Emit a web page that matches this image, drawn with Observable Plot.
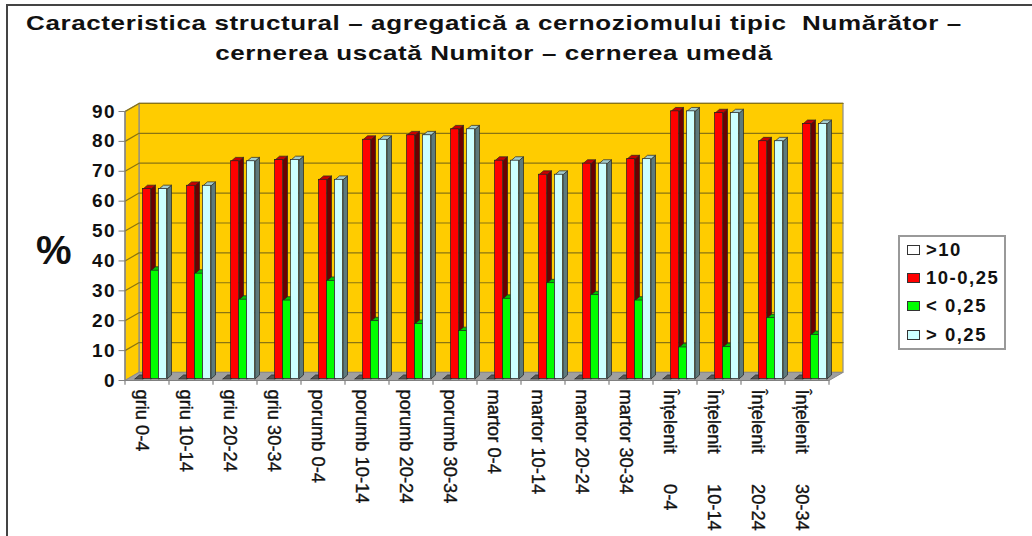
<!DOCTYPE html>
<html lang="ro">
<head>
<meta charset="utf-8">
<script src="https://cdn.jsdelivr.net/npm/d3@7"></script>
<script src="https://cdn.jsdelivr.net/npm/@observablehq/plot@0.6"></script>
<style>
  html, body { margin: 0; padding: 0; background: #fff; overflow: hidden; }
  body { width: 1032px; height: 536px; position: relative; font-family: "Liberation Sans", Arial, sans-serif; }
  #frame { position: absolute; left: 6px; top: 4px; width: 1030px; height: 540px; border-left: 2px solid #444; border-top: 2px solid #444; pointer-events: none; }
  #title { height: 75px; box-sizing: border-box; padding-top: 8px; width: 988px; text-align: center; font-weight: bold; font-size: 21px; line-height: 29.5px; color: #111; letter-spacing: 0.5px; white-space: pre; transform: scaleX(1.237); transform-origin: 494px 0; }
  #chart { display: block; }
  #chart svg { display: block; }
  [aria-label="y-axis tick label"] text { letter-spacing: 1.4px; }
  #legend { position: absolute; left: 898px; top: 235px; width: 104px; height: 111px; border: 2px solid #999; background: #fff; box-sizing: content-box; }
  .row { position: absolute; left: 7px; height: 24px; display: flex; align-items: center; font-weight: bold; font-size: 18.5px; letter-spacing: 1.5px; color: #111; white-space: pre; }
  .sw { display: inline-block; width: 11px; height: 8px; border: 1.5px solid #333; margin-right: 6px; }
</style>
</head>
<body>
<div id="title">Caracteristica structural – agregatică a cernoziomului tipic  Numărător –
cernerea uscată Numitor – cernerea umedă</div>
<div id="chart"></div>
<div id="legend"></div>
<div id="frame"></div>
<script>
const categories = ["griu 0-4","griu 10-14","griu 20-24","griu 30-34","porumb 0-4","porumb 10-14","porumb 20-24","porumb 30-34","martor 0-4","martor 10-14","martor 20-24","martor 30-34","Înțelenit      0-4","Înțelenit      10-14","Înțelenit      20-24","Înțelenit      30-34"];
const seriesNames = [">10","10-0,25","< 0,25","> 0,25"];
const over10  = [0,0,0,0,0,0,0,0,0,0,0,0,0,0,0,0];
const mid     = [63.5,64.6,72.8,73.2,66.6,80,81.5,83.5,73,68.3,72,73.5,89.5,88.9,79.5,85.3];
const under   = [36.2,35.2,26.5,26.2,32.8,19.3,18.4,16,26.8,32,28,26.2,10.5,10.6,20.3,14.7];
const over025 = [63.5,64.6,72.8,73.2,66.6,80,81.5,83.5,73,68.3,72,73.5,89.5,88.9,79.5,85.3];
const seriesValues = [over10, mid, under, over025];
const yTicks = [0,10,20,30,40,50,60,70,80,90];

const faceColors = ["#ffffff","#ff0000","#00ff00","#ccffff"];
const topColors  = ["#555555","#c80000","#00c800","#a4cccc"];
const sideColors = ["#555555","#6e0000","#006e00","#5d7a7c"];

// depth of the 3-D box, in data units of the two scales
const depthX = 14 / 44, depthY = 2.7;
const barDepthX = 4.5 / 44, barDepthY = 1.3;
const barWidth = 8 / 44, barStart = 10 / 44, barBase = 0.55;

const bars = seriesNames.flatMap((name, s) => categories.map((c, i) => {
  const x1 = i + barStart + s * barWidth;
  return {s, i, c, name, value: seriesValues[s][i], x1, x2: x1 + barWidth};
}));
const poly = (rows) => rows.flatMap((r) => r.pts.map(([x, y]) => ({x, y, id: r.id})));
const sideOf = (b) => ({id: `${b.s}-${b.i}`, pts: [
  [b.x2, barBase], [b.x2, barBase + b.value],
  [b.x2 + barDepthX, barBase + b.value + barDepthY], [b.x2 + barDepthX, barBase + barDepthY], [b.x2, barBase]]});
const topOf = (b) => ({id: `${b.s}-${b.i}`, pts: [
  [b.x1, barBase + b.value], [b.x2, barBase + b.value],
  [b.x2 + barDepthX, barBase + b.value + barDepthY], [b.x1 + barDepthX, barBase + b.value + barDepthY], [b.x1, barBase + b.value]]});

const n = categories.length;
const wallBox = [[depthX, depthY], [n + depthX, depthY], [n + depthX, 90 + depthY], [depthX, 90 + depthY], [depthX, depthY]];
const leftWall = [[0, 0], [depthX, depthY], [depthX, 90 + depthY], [0, 90], [0, 0]];
const floor = [[0, 0], [n, 0], [n + depthX, depthY], [depthX, depthY], [0, 0]];
const toRow = ([x, y]) => ({x, y});
const grid = yTicks.filter((t) => t > 0).flatMap((t) => [[0, t], [depthX, t + depthY], [n + depthX, t + depthY]].map(([x, y]) => ({x, y, id: t})));

const marks = [
  Plot.line(wallBox.map(toRow), {x: "x", y: "y", fill: "#ffcc00", stroke: "#8c8c8c", strokeWidth: 1.2}),
  Plot.line(leftWall.map(toRow), {x: "x", y: "y", fill: "#ffcc00", stroke: "#8c8c8c", strokeWidth: 1.2}),
  Plot.line(grid, {x: "x", y: "y", z: "id", stroke: "#8a7412", strokeWidth: 1.2}),
  Plot.line(floor.map(toRow), {x: "x", y: "y", fill: "#a0a0a0", stroke: "#8c8c8c", strokeWidth: 1})
];
// sides first, so that the next bar's face covers them
seriesNames.forEach((_, s) => {
  const rows = bars.filter((b) => b.s === s);
  marks.push(Plot.line(poly(rows.map(sideOf)), {x: "x", y: "y", z: "id", fill: sideColors[s], stroke: "#222", strokeWidth: 0.7}));
});
seriesNames.forEach((_, s) => {
  const rows = bars.filter((b) => b.s === s);
  marks.push(Plot.line(poly(rows.map(topOf)), {x: "x", y: "y", z: "id", fill: topColors[s], stroke: "#222", strokeWidth: 0.7}));
  marks.push(Plot.rect(rows, {x1: "x1", x2: "x2", y1: barBase, y2: (d) => barBase + d.value, fill: faceColors[s], stroke: "#222", strokeWidth: 0.7}));
});
marks.push(
  Plot.ruleY([0], {stroke: "#808080", strokeWidth: 1.2}),
  Plot.ruleX([0], {stroke: "#808080", strokeWidth: 1.2, y1: 0, y2: 90}),
  Plot.axisY({ticks: yTicks, tickSize: 6, tickPadding: 3, label: null, stroke: "#808080", fontSize: 19, fontWeight: "bold", fill: "#111", tickFormat: (d) => d}),
  Plot.ruleX(d3.range(0, n + 1), {y1: 0, y2: -1.6, stroke: "#808080", strokeWidth: 1.2}),
  Plot.text(categories, {x: (d, i) => i + 0.5, y: 0, text: (d) => d, rotate: 90, textAnchor: "start", dx: -5, dy: 9, fontSize: 18.3, fill: "#111", stroke: "#111", strokeWidth: 0.35, fontFamily: "Liberation Sans"}),
  Plot.text(["%"], {frameAnchor: "left", text: (d) => d, dx: -89, dy: 5, fontSize: 40, fontWeight: "bold", fill: "#111"})
);

const plot = Plot.plot({
  width: 1032,
  height: 461,
  marginLeft: 124.5,
  marginRight: 203.5,
  marginTop: 36,
  marginBottom: 156,
  style: {fontFamily: "Liberation Sans", overflow: "visible", background: "transparent"},
  x: {type: "linear", domain: [0, n], axis: null},
  y: {type: "linear", domain: [0, 90], axis: null},
  marks
});
document.getElementById("chart").append(plot);

const legend = document.getElementById("legend");
const legendTops = [1, 29, 57, 86];
seriesNames.forEach((name, s) => {
  const row = document.createElement("div");
  row.className = "row";
  row.style.top = legendTops[s] + "px";
  const sw = document.createElement("span");
  sw.className = "sw";
  sw.style.background = faceColors[s];
  row.append(sw, name);
  legend.append(row);
});
</script>
</body>
</html>
